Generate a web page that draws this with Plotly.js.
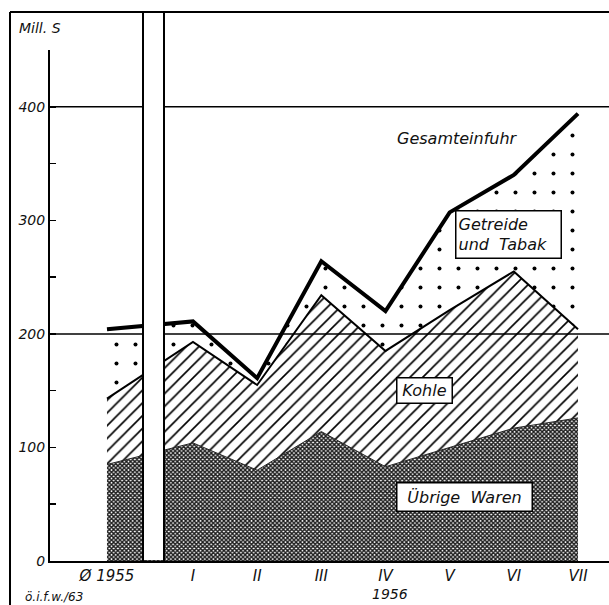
<!DOCTYPE html>
<html>
<head>
<meta charset="utf-8">
<script src="https://cdn.plot.ly/plotly-3.0.1.min.js"></script>
<style>html,body{margin:0;padding:0;background:#fff;}#chart{width:609px;height:605px;}</style>
</head>
<body>
<div id="chart"></div>
<script>
// ---- data ----
const categories = ['Ø 1955', 'I', 'II', 'III', 'IV', 'V', 'VI', 'VII'];
const xPositions = [-0.34, 1, 2, 3, 4, 5, 6, 7];
const uebrigeWaren = [85, 104, 80, 114, 83, 100, 117, 126];
const kohle = [58, 89, 75, 120, 102, 121, 138, 78];
const getreideTabak = [61, 18, 6, 30, 35, 86, 85, 190];
const yTickVals = [0, 50, 100, 150, 200, 250, 300, 350, 400, 450];
const yTickText = ['0', '', '100', '', '200', '', '300', '', '400', ''];
const gridValues = [200, 400];

// ---- layout helpers (pixel -> paper) ----
const W = 609, H = 605, ML = 50, MR = 0, MT = 50, MB = 44;
const pw = W - ML - MR, ph = H - MT - MB;
const px = x => (x - ML) / pw;
const py = y => (H - MB - y) / ph;

const FONT = 'DejaVu Sans, Liberation Sans, sans-serif';
const ital = (size) => ({family: FONT, size: size, color: '#111', style: 'italic'});

const traces = [
  {
    x: xPositions, y: uebrigeWaren, name: 'Übrige Waren', type: 'scatter', mode: 'lines',
    stackgroup: 'one', fill: 'tozeroy', line: {color: '#222', width: 1},
    fillcolor: '#ffffff',
    fillpattern: {shape: 'x', size: 3, solidity: 0.7, fgcolor: '#1a1a1a', bgcolor: '#ffffff'},
    hoverinfo: 'skip'
  },
  {
    x: xPositions, y: kohle, name: 'Kohle', type: 'scatter', mode: 'lines',
    stackgroup: 'one', fill: 'tonexty', line: {color: '#000', width: 2},
    fillcolor: '#ffffff',
    fillpattern: {shape: '/', size: 9, solidity: 0.18, fgcolor: '#000', bgcolor: '#ffffff'},
    hoverinfo: 'skip'
  },
  {
    x: xPositions, y: getreideTabak, name: 'Getreide und Tabak', type: 'scatter', mode: 'lines',
    stackgroup: 'one', fill: 'tonexty', line: {color: '#000', width: 4},
    fillcolor: '#ffffff',
    fillpattern: {shape: '.', size: 19, solidity: 0.035, fgcolor: '#000', bgcolor: '#ffffff'},
    hoverinfo: 'skip'
  }
];

const shapes = [];
gridValues.forEach(v => shapes.push({
  type: 'line', xref: 'paper', yref: 'y', x0: 0, x1: 1, y0: v, y1: v,
  line: {color: '#000', width: 1.5}, layer: 'above'
}));
// axis break band
shapes.push({type: 'rect', xref: 'paper', yref: 'paper', x0: px(143), x1: px(164), y0: py(560), y1: py(12),
  fillcolor: '#fff', line: {width: 0}, layer: 'above'});
shapes.push({type: 'line', xref: 'paper', yref: 'paper', x0: px(143), x1: px(143), y0: py(561), y1: py(12),
  line: {color: '#000', width: 2}, layer: 'above'});
shapes.push({type: 'line', xref: 'paper', yref: 'paper', x0: px(164), x1: px(164), y0: py(561), y1: py(12),
  line: {color: '#000', width: 2}, layer: 'above'});
// outer frame
shapes.push({type: 'line', xref: 'paper', yref: 'paper', x0: px(10), x1: px(609), y0: py(12), y1: py(12),
  line: {color: '#000', width: 2}, layer: 'above'});
shapes.push({type: 'line', xref: 'paper', yref: 'paper', x0: px(10), x1: px(10), y0: py(12), y1: py(605),
  line: {color: '#000', width: 2}, layer: 'above'});

const plain = (text, cx, cy, size) => ({
  text: text, xref: 'paper', yref: 'paper', x: px(cx), y: py(cy), xanchor: 'center', yanchor: 'middle',
  showarrow: false, font: ital(size)
});
const boxed = (text, cx, cy, w, h, align) => ({
  text: text, xref: 'paper', yref: 'paper', x: px(cx), y: py(cy), xanchor: 'center', yanchor: 'middle',
  showarrow: false, font: ital(16), bgcolor: '#fff', bordercolor: '#000', borderwidth: 1.5,
  borderpad: 2, width: w, height: h, align: align || 'left'
});

const annotations = [
  plain('Mill. S', 40, 28, 14),
  plain('Gesamteinfuhr', 457, 138, 16),
  boxed('Getreide<br>und  Tabak', 508.5, 234.5, 100, 42, 'left'),
  boxed('Kohle', 424, 390, 50, 20, 'center'),
  boxed('Übrige  Waren', 464.5, 497, 130, 23, 'center'),
  plain('1956', 390, 594, 14),
  plain('ö.i.f.w./63', 54, 597, 12)
];

const layout = {
  width: W, height: H,
  margin: {l: ML, r: MR, t: MT, b: MB, pad: 0},
  paper_bgcolor: '#fff', plot_bgcolor: '#fff',
  showlegend: false,
  xaxis: {
    range: [-1.228, 7.483], tickvals: xPositions, ticktext: categories,
    showgrid: false, zeroline: false, showline: true, linecolor: '#000', linewidth: 2,
    ticks: '', tickfont: ital(15), fixedrange: true
  },
  yaxis: {
    range: [0, 450], tickvals: yTickVals, ticktext: yTickText,
    showgrid: false, zeroline: false, showline: true, linecolor: '#000', linewidth: 2,
    ticks: 'inside', ticklen: 6, tickwidth: 1.5, tickcolor: '#000',
    tickfont: ital(14), fixedrange: true
  },
  shapes: shapes,
  annotations: annotations
};

Plotly.newPlot('chart', traces, layout, {displayModeBar: false, staticPlot: true});
</script>
</body>
</html>
